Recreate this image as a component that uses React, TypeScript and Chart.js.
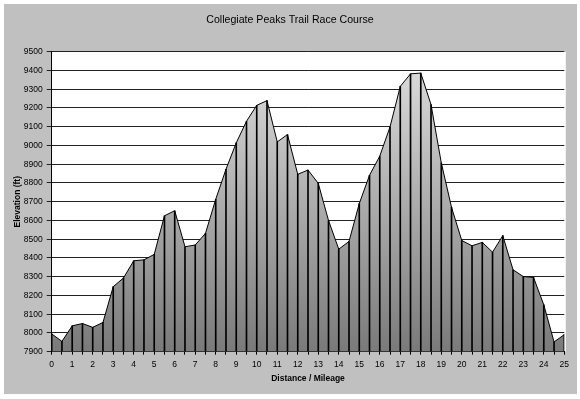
import React, { useEffect, useRef } from 'react';
import { Chart, registerables } from 'chart.js';

Chart.register(...registerables);

const TITLE = 'Collegiate Peaks Trail Race Course';
const X_TITLE = 'Distance / Mileage';
const Y_TITLE = 'Elevation (ft)';

const mileage = [
  0, 0.5, 1, 1.5, 2, 2.5, 3, 3.5, 4, 4.5,
  5, 5.5, 6, 6.5, 7, 7.5, 8, 8.5, 9, 9.5,
  10, 10.5, 11, 11.5, 12, 12.5, 13, 13.5, 14, 14.5,
  15, 15.5, 16, 16.5, 17, 17.5, 18, 18.5, 19, 19.5,
  20, 20.5, 21, 21.5, 22, 22.5, 23, 23.5, 24, 24.5,
  25,
];

const elevation = [
  7995, 7955, 8038, 8050, 8030, 8056, 8247, 8293, 8385, 8390,
  8419, 8625, 8652, 8460, 8469, 8531, 8713, 8873, 9014, 9129,
  9214, 9239, 9019, 9058, 8846, 8869, 8798, 8600, 8447, 8488,
  8690, 8841, 8943, 9099, 9315, 9382, 9386, 9218, 8908, 8670,
  8493, 8465, 8483, 8431, 8519, 8337, 8301, 8296, 8150, 7952,
  7991,
];

const Y_MIN = 7900;
const Y_MAX = 9500;
const Y_STEP = 100;
const X_MIN = 0;
const X_MAX = 25;
const X_TICK_STEP = 0.5;

const FONT = "'Liberation Sans', Arial, sans-serif";

export default function App() {
  const ref = useRef<HTMLCanvasElement>(null);

  useEffect(() => {
    const canvas = ref.current;
    if (!canvas) return;
    const points = mileage.map((m, i) => ({ x: m, y: elevation[i] }));

    const plotBg = {
      id: 'plotBg',
      beforeDraw(chart: any) {
        const { ctx, chartArea: a } = chart;
        ctx.save();
        ctx.fillStyle = '#ffffff';
        ctx.fillRect(a.left, a.top, a.right - a.left + 1.5, a.bottom - a.top);
        ctx.restore();
      },
    };

    const chart = new Chart(canvas, {
      type: 'line',
      data: {
        datasets: [
          {
            type: 'line',
            data: points,
            fill: 'start',
            borderColor: '#000000',
            borderWidth: 1,
            pointRadius: 0,
            tension: 0,
            order: 2,
            backgroundColor: (ctx: any) => {
              const c = ctx.chart;
              const a = c.chartArea;
              if (!a) return '#aaaaaa';
              const g = c.ctx.createLinearGradient(0, a.top, 0, a.bottom);
              g.addColorStop(0, '#e0e0e0');
              g.addColorStop(1, '#7a7a7a');
              return g;
            },
          } as any,
          {
            type: 'bar',
            data: points,
            backgroundColor: '#000000',
            borderWidth: 0,
            barThickness: 1,
            base: Y_MIN,
            order: 1,
          } as any,
        ],
      },
      options: {
        animation: false,
        responsive: false,
        maintainAspectRatio: false,
        events: [],
        layout: { padding: { left: 0, right: 0, top: 0, bottom: 0 } },
        plugins: {
          legend: { display: false },
          tooltip: { enabled: false },
          title: {
            display: true,
            text: TITLE,
            color: '#000000',
            font: { family: FONT, size: 10.6, weight: 'normal', lineHeight: 1.2 },
            padding: { top: 13.6, bottom: 25.4 },
          },
        },
        scales: {
          x: {
            type: 'linear',
            min: X_MIN,
            max: X_MAX,
            offset: false,
            grid: {
              offset: false,
              drawOnChartArea: false,
              drawTicks: true,
              tickLength: 3,
              color: '#000000',
            },
            border: { display: true, color: '#000000', width: 1 },
            ticks: {
              stepSize: X_TICK_STEP,
              autoSkip: false,
              maxRotation: 0,
              minRotation: 0,
              padding: 5,
              color: '#000000',
              font: { family: FONT, size: 8.5 },
              callback: (v: any) => (Number.isInteger(Number(v)) ? String(v) : ''),
            },
            title: {
              display: true,
              text: X_TITLE,
              color: '#000000',
              font: { family: FONT, size: 8.5, weight: 'bold' },
              padding: { top: 0, bottom: 15 },
            },
            afterFit: (s: any) => {
              s.height = 47.3;
            },
          } as any,
          y: {
            type: 'linear',
            min: Y_MIN,
            max: Y_MAX,
            grid: {
              color: '#222222',
              drawTicks: true,
              tickLength: 5,
            },
            border: { display: true, color: '#000000', width: 1 },
            ticks: {
              stepSize: Y_STEP,
              padding: 4,
              color: '#000000',
              font: { family: FONT, size: 8.5 },
              callback: (v: any) => String(v),
            },
            title: {
              display: true,
              text: Y_TITLE,
              color: '#000000',
              font: { family: FONT, size: 8.5, weight: 'bold' },
              padding: { top: 12.5, bottom: 0 },
            },
            afterFit: (s: any) => {
              s.width = 51.7;
            },
          } as any,
          yRight: {
            type: 'linear',
            position: 'right',
            display: true,
            grid: { display: false },
            border: { display: false },
            ticks: { display: false },
            afterFit: (s: any) => {
              s.width = 15.7;
            },
          } as any,
        },
      },
      plugins: [plotBg],
    });

    return () => chart.destroy();
  }, []);

  return (
    <div
      style={{
        position: 'fixed',
        left: 0,
        top: 0,
        width: 580,
        height: 399,
        background: '#ffffff',
      }}
    >
      <div
        style={{
          position: 'absolute',
          left: 4,
          top: 4,
          width: 573,
          height: 390,
          background: '#c0c0c0',
        }}
      />
      <canvas
        ref={ref}
        width={580}
        height={399}
        style={{ position: 'absolute', left: 0, top: 0, width: 580, height: 399 }}
      />
    </div>
  );
}
